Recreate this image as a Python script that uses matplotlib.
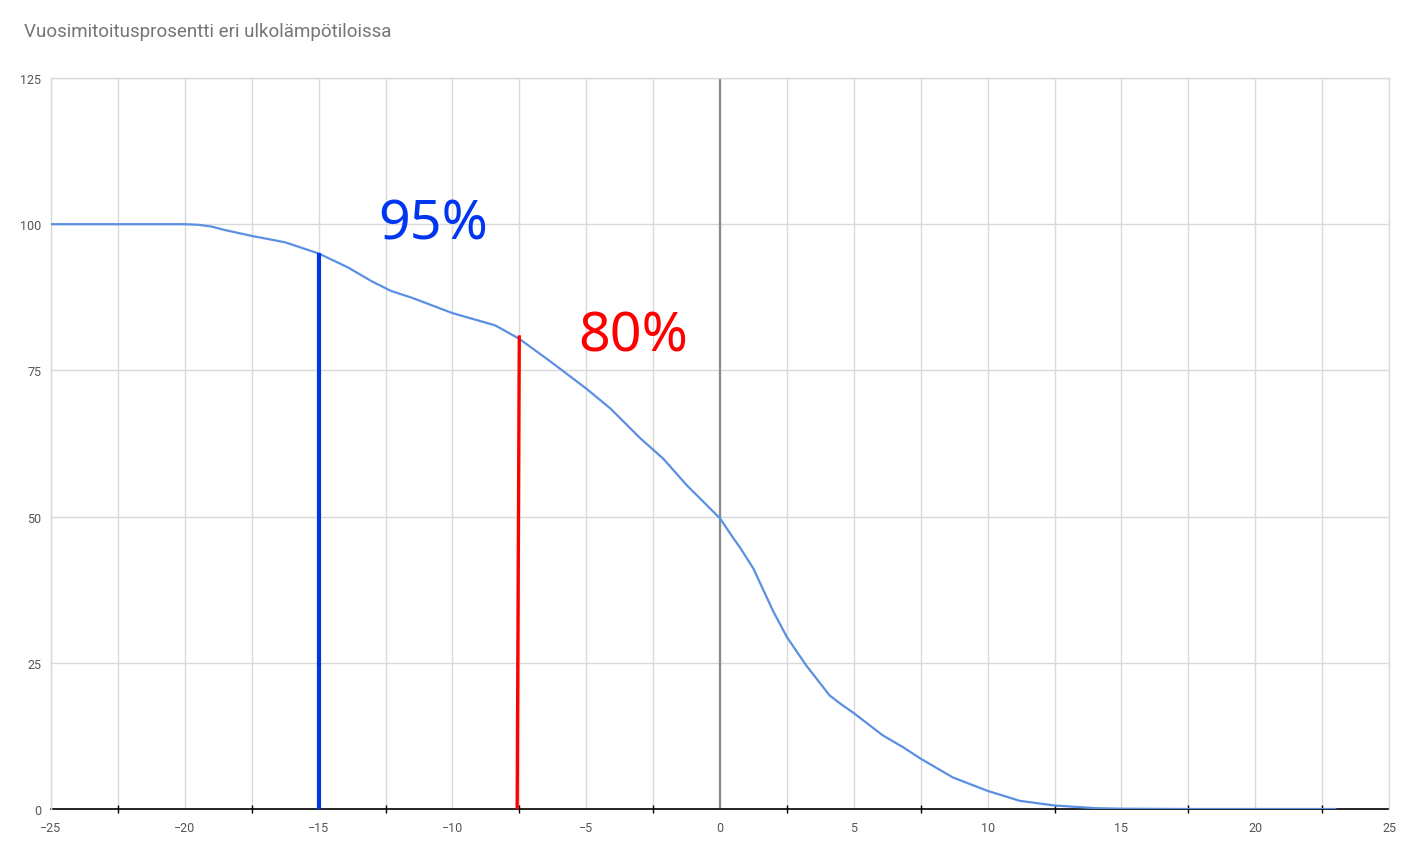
import matplotlib
matplotlib.use("Agg")
import matplotlib.pyplot as plt
from matplotlib.ticker import FixedLocator

# ---- data ----
temps = [-25, -22.5, -20, -19.5, -19, -18.5, -17.5, -16.25, -15, -13.9, -13, -12.3,
         -11.5, -10, -8.4, -7.5, -6.3, -5, -4.1, -2.98, -2.12, -1.25, 0, 0.5, 0.75,
         1.25, 2.0, 2.5, 3.23, 4.1, 4.5, 5, 6.08, 6.83, 7.5, 8.7, 10, 11.2, 12.5,
         14, 15, 17.5, 20, 23]
percent = [100, 100, 100, 99.9, 99.6, 99.0, 98.0, 96.9, 95.0, 92.6, 90.2, 88.6,
           87.4, 84.8, 82.7, 80.4, 76.4, 71.9, 68.5, 63.4, 59.9, 55.4, 49.7, 46.3, 44.7,
           41.1, 33.7, 29.4, 24.5, 19.4, 18.0, 16.4, 12.6, 10.6, 8.6, 5.4, 3.1, 1.4, 0.6,
           0.15, 0.05, 0, 0, 0]

title = "Vuosimitoitusprosentti eri ulkolämpötiloissa"
x_ticks = [-25, -20, -15, -10, -5, 0, 5, 10, 15, 20, 25]
x_minor = [-22.5, -17.5, -12.5, -7.5, -2.5, 2.5, 7.5, 12.5, 17.5, 22.5]
y_ticks = [0, 25, 50, 75, 100, 125]

mark95_x = [-15, -15]
mark95_y = [0, 95]
mark80_x = [-7.58, -7.5]
mark80_y = [0, 81]
label95 = "95%"
label80 = "80%"

# ---- figure ----
fig = plt.figure(figsize=(14.1, 8.45), dpi=100)
ax = fig.add_axes([51/1410, 35/845, (1389-51)/1410, (810-79)/845])

ax.set_xlim(-25, 25)
ax.set_ylim(0, 125)

grid_c = "#d9d9d9"
ax.set_xticks(x_ticks)
ax.xaxis.set_minor_locator(FixedLocator(x_minor))
ax.set_yticks(y_ticks)
for v in x_ticks + x_minor:
    ax.axvline(v, color=grid_c, lw=1.0, zorder=0)
for v in y_ticks:
    ax.axhline(v, color=grid_c, lw=1.0, zorder=0)
ax.axvline(0, color="#8a8a8a", lw=1.6, zorder=1)

for s in ["top", "left", "right"]:
    ax.spines[s].set_color(grid_c)
    ax.spines[s].set_linewidth(1.0)
ax.spines["bottom"].set_color("black")
ax.spines["bottom"].set_linewidth(1.2)
ax.spines["bottom"].set_zorder(2)

ax.tick_params(axis="both", which="major", length=0, labelcolor="#555555", pad=9)
ax.tick_params(axis="x", which="minor", length=6, direction="inout", color="black", width=1)
ax.tick_params(axis="y", pad=7)
for lab in ax.get_xticklabels() + ax.get_yticklabels():
    lab.set_fontfamily(["Roboto", "DejaVu Sans"])
    lab.set_fontsize(9)

ax.plot(temps, percent, color="#5b8fe3", lw=1.6, zorder=3,
        solid_capstyle="round", solid_joinstyle="round")

ax.plot(mark95_x, mark95_y, color="#0036e8", lw=3.0, zorder=4, solid_capstyle="butt")
ax.plot(mark80_x, mark80_y, color="#ff0000", lw=2.4, zorder=4, solid_capstyle="butt")

ax.text(-12.78, 97.5, label95, color="#0036f0", fontsize=40,
        family=["Noto Sans", "DejaVu Sans"], ha="left", va="baseline", zorder=5)
ax.text(-5.31, 78.4, label80, color="#ff0000", fontsize=40,
        family=["Noto Sans", "DejaVu Sans"], ha="left", va="baseline", zorder=5)

fig.text(24/1410, 1 - 32/845, title, color="#757575", fontsize=13.5,
         family=["Roboto", "DejaVu Sans"], ha="left", va="center")

fig.savefig("out.png", dpi=100, facecolor="white")
